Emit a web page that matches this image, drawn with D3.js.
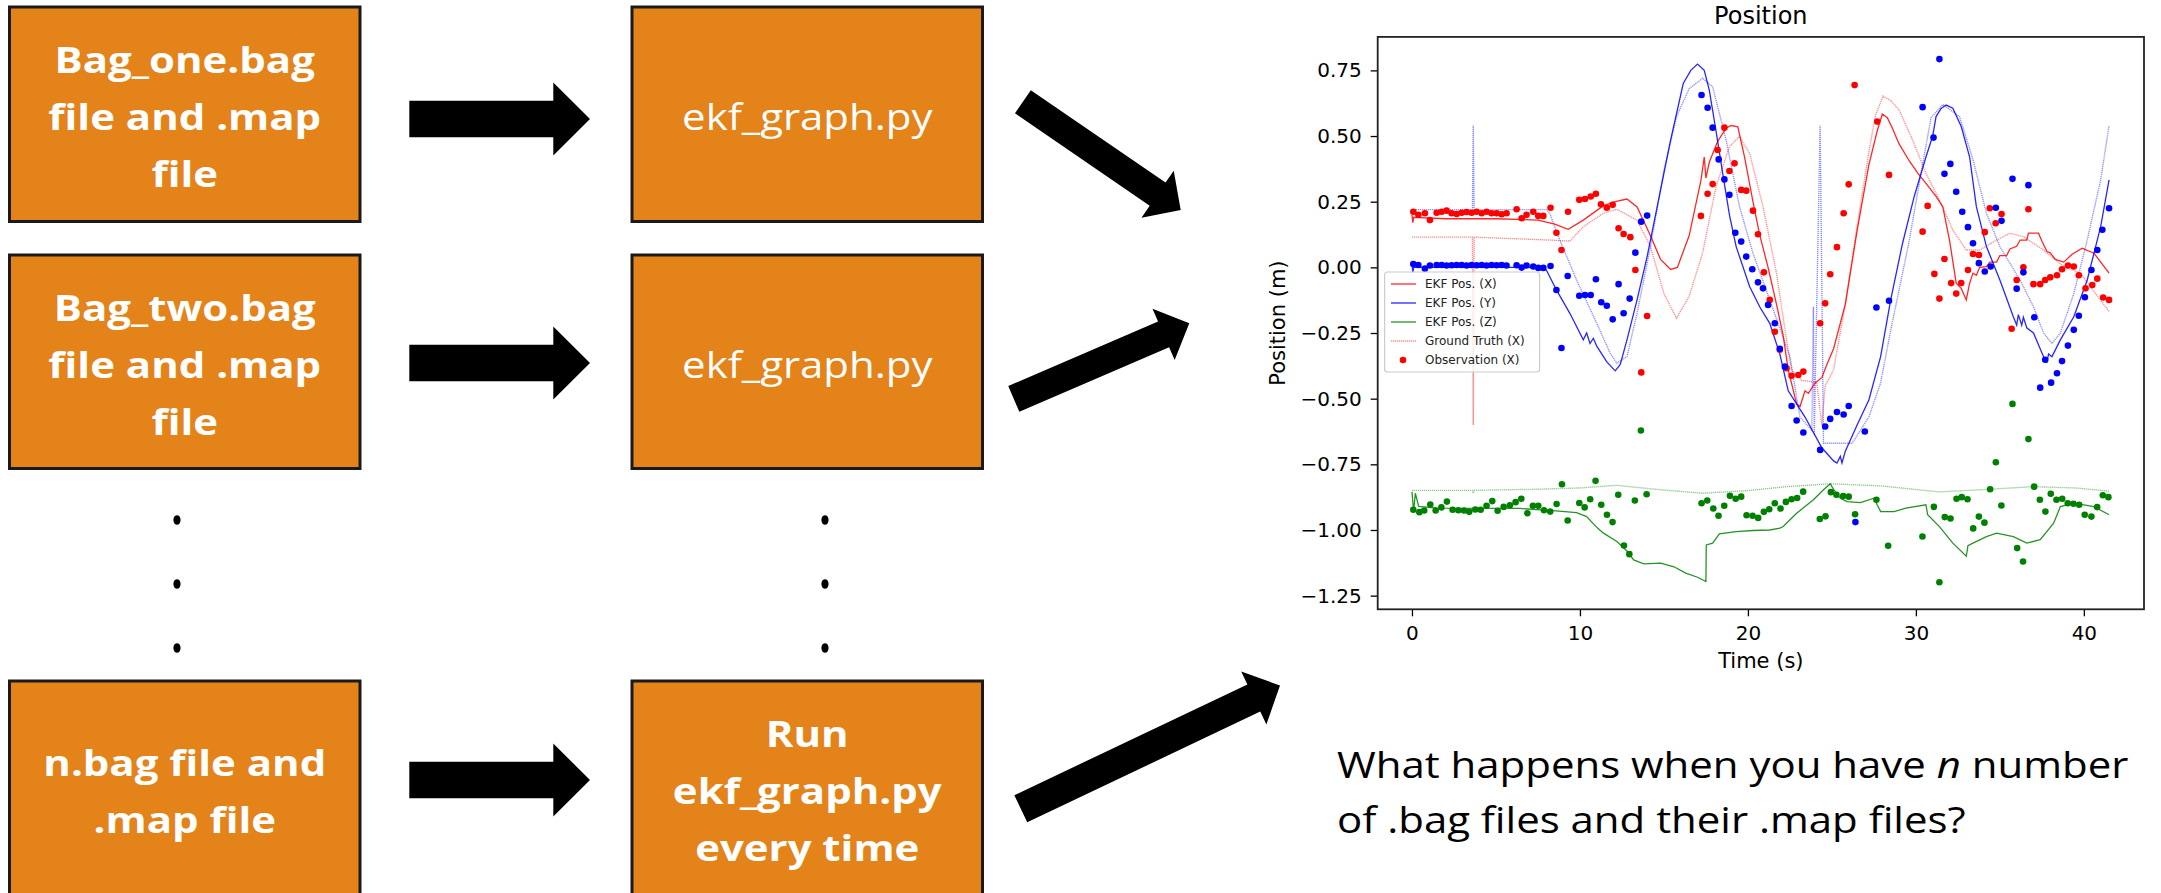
<!DOCTYPE html>
<html>
<head>
<meta charset="utf-8">
<script src="https://cdn.jsdelivr.net/npm/d3@7"></script>
<style>
  html, body { margin: 0; padding: 0; background: #fff; }
  svg { display: block; }
</style>
</head>
<body>
<div id="chart"></div>
<script>
// ---------- diagram text ----------
const inputLabels = [
  ["Bag_one.bag", "file and .map", "file"],
  ["Bag_two.bag", "file and .map", "file"],
  ["n.bag file and", ".map file"],
];
const scriptLabels = [
  ["ekf_graph.py"],
  ["ekf_graph.py"],
  ["Run", "ekf_graph.py", "every time"],
];
const questionLines = [
  ["What happens when you have ", "n", " number"],
  ["of .bag files and their .map files?"],
];

// ---------- plot text ----------
const plotTitle = "Position";
const xLabel = "Time (s)";
const yLabel = "Position (m)";
const xTicks = [0, 10, 20, 30, 40];
const yTicks = [0.75, 0.5, 0.25, 0, -0.25, -0.5, -0.75, -1.0, -1.25];
const legendLabels = ["EKF Pos. (X)", "EKF Pos. (Y)", "EKF Pos. (Z)", "Ground Truth (X)", "Observation (X)"];

// ---------- plot data: [time (s), position (m)] ----------
const ekfX = [
  [0, 0.2], [0.05, 0.17], [0.1, 0.19], [2, 0.185], [5, 0.185], [7.5, 0.18], [8.5, 0.165], [9.3, 0.145],
  [10.2, 0.18], [11.4, 0.235], [12.1, 0.25], [12.8, 0.26], [13.4, 0.23], [14.2, 0.12], [14.8, 0.03],
  [15.4, -0.008], [15.8, 0.0], [16.5, 0.12], [17.2, 0.33], [17.4, 0.42], [17.5, 0.34], [17.7, 0.4],
  [18.2, 0.48], [18.7, 0.53], [19.0, 0.54], [19.4, 0.535], [19.8, 0.42], [20.3, 0.25], [20.7, 0.124],
  [21.2, 0.0], [21.7, -0.14], [22.1, -0.26], [22.4, -0.39], [22.9, -0.52], [23.1, -0.53], [23.4, -0.47],
  [23.6, -0.48], [24.0, -0.44], [24.4, -0.42], [24.7, -0.37], [25.1, -0.31], [25.8, -0.14], [26.5, 0.14],
  [27.2, 0.39], [27.7, 0.52], [28.0, 0.584], [28.3, 0.57], [28.6, 0.53], [29.0, 0.47], [29.6, 0.406],
  [30.1, 0.36], [30.6, 0.32], [31.2, 0.27], [31.6, 0.231], [32.0, 0.104], [32.4, -0.06], [32.7, -0.08],
  [33.0, -0.124], [33.2, -0.06], [33.4, -0.022], [33.6, -0.03], [33.8, 0.0], [34.2, 0.003], [34.4, 0.02],
  [34.8, 0.02], [35.0, 0.045], [35.4, 0.045], [35.6, 0.07], [36.0, 0.08], [36.2, 0.104], [36.6, 0.104],
  [36.7, 0.13], [37.3, 0.13], [37.5, 0.1], [37.8, 0.06], [38.0, 0.055], [38.3, 0.03], [38.8, 0.02],
  [39.3, 0.05], [39.9, 0.073], [40.6, 0.054], [41.5, -0.022],
];
const ekfY = [
  [0, 0.02], [0.05, -0.02], [0.1, 0.0], [4, 0.0], [7.5, 0.0], [8.0, -0.01], [8.6, -0.086], [9.4, -0.175],
  [10.2, -0.276], [10.4, -0.25], [10.6, -0.29], [10.8, -0.27], [11.0, -0.3], [11.6, -0.36], [12.1, -0.394],
  [12.4, -0.37], [12.8, -0.276], [13.4, -0.124], [14.0, 0.041], [14.6, 0.231], [15.4, 0.485], [16.15, 0.7],
  [16.6, 0.75], [17.0, 0.774], [17.4, 0.75], [17.7, 0.675], [18.1, 0.52], [18.5, 0.358], [18.9, 0.2],
  [19.3, 0.079], [20.1, -0.073], [20.7, -0.15], [21.3, -0.213], [21.9, -0.33], [22.4, -0.47], [23.4, -0.57],
  [24.4, -0.687], [25.1, -0.737], [25.3, -0.745], [25.5, -0.72], [25.6, -0.745], [25.8, -0.7], [26.5, -0.6],
  [27.2, -0.505], [27.9, -0.34], [28.5, -0.124], [29.2, 0.09], [29.9, 0.27], [30.6, 0.42], [31.0, 0.5],
  [31.2, 0.574], [31.5, 0.605], [31.8, 0.618], [32.2, 0.606], [32.7, 0.536], [33.2, 0.42], [33.6, 0.231],
  [34.2, 0.079], [35.0, -0.048], [35.8, -0.188], [36.0, -0.22], [36.1, -0.18], [36.3, -0.22], [36.4, -0.19],
  [36.6, -0.23], [37.0, -0.25], [37.6, -0.34], [37.8, -0.36], [37.9, -0.33], [38.1, -0.34], [38.6, -0.276],
  [39.4, -0.188], [40.2, -0.048], [41.0, 0.155], [41.5, 0.333],
];
const ekfZ = [
  [0, -0.855], [0.1, -0.93], [0.2, -0.86], [0.4, -0.91], [1.5, -0.917], [6.4, -0.918], [8.4, -0.926],
  [9.8, -0.934], [10.4, -0.949], [11.0, -0.99], [11.4, -1.012], [12.2, -1.044], [12.8, -1.08], [13.2, -1.114],
  [13.8, -1.129], [14.8, -1.126], [15.6, -1.14], [16.3, -1.164], [17.0, -1.18], [17.5, -1.196], [17.52, -1.057],
  [17.9, -1.05], [18.3, -1.015], [19.3, -1.006], [20.3, -1.002], [21.3, -1.0], [21.9, -0.993], [22.1, -0.987],
  [22.9, -0.936], [23.9, -0.885], [24.5, -0.847], [24.9, -0.824], [25.1, -0.845], [25.5, -0.879], [25.9, -0.892],
  [26.7, -0.896], [27.5, -0.879], [27.9, -0.93], [28.7, -0.93], [29.4, -0.917], [30.6, -0.904], [30.7, -0.942],
  [31.4, -0.987], [32.2, -1.05], [33.0, -1.1], [33.1, -1.06], [33.4, -1.05], [34.2, -1.025], [34.8, -1.012],
  [35.8, -1.025], [36.6, -1.05], [37.4, -1.037], [38.2, -0.974], [38.6, -0.911], [39.4, -0.898], [40.6, -0.911],
  [41.5, -0.942],
];
const truthX = [
  [0, 0.115], [3.6, 0.115], [3.65, -0.6], [3.7, 0.115], [8.2, 0.104], [9.4, 0.1], [10.2, 0.155], [11.4, 0.206],
  [12.2, 0.221], [13.4, 0.18], [14.2, 0.079], [15.0, -0.1], [15.75, -0.194], [16.5, -0.11], [17.3, 0.054],
  [18.1, 0.307], [18.9, 0.46], [19.5, 0.498], [20.1, 0.434], [20.9, 0.231], [21.7, -0.022], [22.3, -0.276],
  [22.6, -0.39], [23.2, -0.43], [23.8, -0.435], [24.1, -0.44], [24.4, -0.6], [24.6, -0.45], [25.1, -0.39],
  [25.8, -0.14], [26.5, 0.157], [27.2, 0.44], [27.6, 0.58], [28.05, 0.652], [28.5, 0.635], [29.0, 0.6],
  [29.8, 0.485], [30.6, 0.358], [31.4, 0.257], [32.2, 0.142], [33.0, 0.066], [33.8, 0.066], [34.8, 0.104],
  [35.6, 0.13], [36.4, 0.117], [37.6, 0.066], [38.8, 0.003], [39.8, -0.022], [40.7, -0.1], [41.5, -0.168],
];
const truthY = [
  [0, 0.22], [3.6, 0.22], [3.65, 0.54], [3.7, 0.22], [8.0, 0.22], [8.2, 0.206], [8.8, 0.104], [9.8, -0.048],
  [11.0, -0.213], [11.8, -0.327], [12.2, -0.365], [12.8, -0.34], [13.4, -0.175], [14.2, 0.079], [15.0, 0.37],
  [15.75, 0.574], [16.5, 0.68], [17.3, 0.72], [17.9, 0.688], [18.7, 0.485], [19.5, 0.231], [20.3, 0.054],
  [21.3, -0.124], [22.5, -0.34], [23.1, -0.57], [23.8, -0.62], [23.9, -0.15], [23.95, -0.64], [24.3, 0.54],
  [24.5, -0.67], [24.8, -0.67], [26.2, -0.67], [27.2, -0.57], [27.9, -0.44], [28.5, -0.24], [29.6, 0.1],
  [30.3, 0.356], [30.9, 0.57], [31.6, 0.62], [32.6, 0.574], [33.4, 0.41], [34.2, 0.206], [35.0, 0.079],
  [36.2, -0.048], [37.0, -0.15], [37.6, -0.25], [38.1, -0.29], [38.6, -0.25], [39.4, -0.1], [40.2, 0.104],
  [41.0, 0.333], [41.5, 0.54],
];
const truthZ = [
  [0, -0.849], [3.6, -0.849], [3.65, -0.86], [3.7, -0.849], [7.4, -0.845], [10, -0.84], [12.2, -0.83],
  [14.5, -0.845], [17.3, -0.86], [20, -0.85], [22.3, -0.835], [24.9, -0.824], [27.9, -0.832], [31.4, -0.855],
  [33.8, -0.847], [37.0, -0.835], [39.5, -0.84], [41.5, -0.852],
];
const obsX = [
  [0.08, 0.212], [0.38, 0.2], [0.77, 0.206], [1.07, 0.18], [1.47, 0.208], [1.77, 0.212], [2.06, 0.216],
  [2.36, 0.206], [2.66, 0.203], [2.96, 0.208], [3.25, 0.211], [3.55, 0.208], [3.85, 0.212], [4.15, 0.206],
  [4.44, 0.212], [4.74, 0.206], [5.04, 0.206], [5.34, 0.202], [5.63, 0.206], [6.23, 0.221], [6.53, 0.187],
  [6.82, 0.2], [7.22, 0.212], [7.52, 0.196], [7.82, 0.196],
  [8.25, 0.227], [8.6, 0.132], [8.9, 0.066], [9.29, 0.212], [9.96, 0.257], [10.3, 0.26], [10.64, 0.27],
  [10.95, 0.28], [11.25, 0.24], [11.6, 0.227], [11.95, 0.238], [12.3, 0.149], [12.6, 0.127], [13.0, 0.115],
  [13.3, -0.01], [13.65, -0.4], [14.0, -0.185],
  [17.2, 0.196], [17.6, 0.28], [17.9, 0.317], [18.2, 0.447], [18.6, 0.532], [18.9, 0.367], [19.2, 0.396],
  [19.6, 0.295], [19.9, 0.292], [20.3, 0.216], [20.6, 0.126], [20.95, -0.019], [21.3, -0.124], [21.6, -0.245],
  [21.9, -0.314], [22.3, -0.384], [22.6, -0.413], [23.0, -0.41], [23.3, -0.397],
  [24.3, -0.213], [24.6, -0.137], [24.9, -0.026], [25.3, 0.077], [25.7, 0.206], [26.0, 0.316], [26.35, 0.694],
  [27.7, 0.555], [28.4, 0.352],
  [30.4, 0.136], [30.7, 0.234], [31.1, -0.025], [31.4, -0.119], [31.7, 0.032], [32.1, -0.06], [32.4, -0.1],
  [32.7, -0.06], [33.1, -0.01], [33.4, 0.051], [33.75, 0.047], [34.1, 0.134], [34.4, 0.225], [34.75, 0.168],
  [35.1, 0.203], [35.7, -0.234], [36.0, -0.048], [36.4, 0.0], [36.7, 0.221], [37.0, -0.064], [37.4, -0.064],
  [37.7, -0.048], [38.0, -0.038], [38.4, -0.03], [38.7, -0.007], [39.05, 0.007], [39.4, 0.003], [39.7, -0.03],
  [40.1, -0.08], [40.5, -0.067], [40.8, -0.043], [41.15, -0.115], [41.5, -0.124],
];
const obsY = [
  [0.08, 0.013], [0.38, 0.009], [0.77, -0.005], [1.07, 0.007], [1.47, 0.009], [1.77, 0.009], [2.06, 0.007],
  [2.36, 0.008], [2.66, 0.009], [2.96, 0.009], [3.25, 0.007], [3.55, 0.009], [3.85, 0.008], [4.15, 0.009],
  [4.44, 0.007], [4.74, 0.009], [5.04, 0.008], [5.34, 0.009], [5.63, 0.007], [6.23, 0.008], [6.53, -0.001],
  [6.82, 0.007], [7.22, 0.003], [7.52, -0.002], [7.82, -0.002], [8.25, 0.005],
  [8.6, -0.086], [8.9, -0.307], [9.27, -0.033], [9.96, -0.108], [10.3, -0.105], [10.64, -0.105], [10.95, -0.045],
  [11.27, -0.133], [11.6, -0.146], [11.95, -0.198], [12.3, -0.064], [12.6, -0.175], [12.96, -0.119],
  [13.3, 0.056], [13.65, 0.174], [14.0, 0.197],
  [17.24, 0.656], [17.6, 0.608], [17.9, 0.532], [18.26, 0.411], [18.6, 0.335], [18.9, 0.276], [19.25, 0.132],
  [19.6, 0.098], [19.9, 0.041], [20.26, -0.007], [20.6, -0.057], [20.9, -0.08], [21.2, -0.143], [21.6, -0.213],
  [21.9, -0.31], [22.2, -0.378], [22.6, -0.528], [22.9, -0.583], [23.3, -0.629], [24.3, -0.695], [24.6, -0.606],
  [24.9, -0.577], [25.3, -0.551], [25.7, -0.56], [26.0, -0.528], [26.4, -0.97], [26.96, -0.625],
  [27.65, -0.153], [28.4, -0.127],
  [30.4, 0.61], [31.05, 0.494], [31.4, 0.793], [31.7, 0.356], [32.05, 0.394], [32.4, 0.288], [32.76, 0.212],
  [33.1, 0.153], [33.4, 0.092], [33.75, 0.016], [34.1, -0.016], [34.45, 0.003], [34.76, 0.227], [35.1, 0.177],
  [35.75, 0.337], [36.0, -0.081], [36.4, -0.019], [36.7, 0.313], [37.05, -0.19], [37.4, -0.458], [37.7, -0.352],
  [38.05, -0.439], [38.4, -0.403], [38.7, -0.357], [39.05, -0.298], [39.4, -0.238], [39.7, -0.184],
  [40.06, -0.114], [40.45, -0.01], [40.8, 0.066], [41.1, 0.143], [41.5, 0.225],
];
const obsZ = [
  [0.08, -0.923], [0.44, -0.932], [0.73, -0.926], [1.09, -0.903], [1.41, -0.926], [1.75, -0.914], [2.08, -0.892],
  [2.42, -0.923], [2.76, -0.925], [3.1, -0.926], [3.41, -0.931], [3.77, -0.922], [4.09, -0.923], [4.44, -0.908],
  [4.78, -0.89], [5.1, -0.927], [5.46, -0.912], [5.83, -0.906], [6.17, -0.894], [6.51, -0.881], [6.87, -0.936],
  [7.2, -0.908], [7.52, -0.908], [7.86, -0.925], [8.23, -0.93], [8.61, -0.901], [8.93, -0.826], [9.27, -0.964],
  [9.96, -0.897], [10.28, -0.914], [10.61, -0.883], [10.93, -0.813], [11.27, -0.904], [11.61, -0.942],
  [11.94, -0.97], [12.28, -0.866], [12.62, -1.059], [12.94, -1.092], [13.27, -0.888], [13.63, -0.621],
  [13.97, -0.864],
  [17.24, -0.898], [17.58, -0.888], [17.94, -0.918], [18.25, -0.946], [18.59, -0.908], [18.93, -0.87],
  [19.27, -0.881], [19.6, -0.873], [19.92, -0.944], [20.28, -0.946], [20.61, -0.954], [20.95, -0.931],
  [21.27, -0.921], [21.6, -0.898], [21.94, -0.918], [22.26, -0.893], [22.6, -0.883], [22.93, -0.878],
  [23.29, -0.854], [24.28, -0.958], [24.62, -0.948], [24.94, -0.856], [25.27, -0.866], [25.67, -0.871],
  [26.0, -0.873], [26.38, -0.94], [27.65, -0.885], [28.35, -1.06], [30.39, -1.025], [31.07, -0.912],
  [31.4, -1.199], [31.72, -0.951], [32.06, -0.956], [32.42, -0.881], [32.73, -0.875], [33.07, -0.883],
  [33.41, -0.994], [33.75, -0.949], [34.08, -0.972], [34.42, -0.845], [34.76, -0.742], [35.09, -0.907],
  [35.75, -0.52], [36.03, -1.069], [36.38, -1.12], [36.7, -0.654], [37.04, -0.835], [37.38, -0.885],
  [37.71, -0.93], [38.03, -0.862], [38.37, -0.885], [38.71, -0.881], [39.04, -0.898], [39.38, -0.9],
  [39.72, -0.904], [40.05, -0.942], [40.45, -0.949], [40.79, -0.913], [41.13, -0.868], [41.46, -0.875],
];

// ---------- page ----------
const W = 2161, H = 893;
const RED = "#ff0000", BLUE = "#0000ff", GREEN = "#008000";
const svg = d3.select("#chart").append("svg").attr("width", W).attr("height", H);

// ---------- flow diagram ----------
const boxFill = "#e3831a";
const colLeft = [9.5, 632];
const boxW = 350.5;
const rowTop = [7, 255, 681];
const rowBottom = [221.5, 468.5, 912];
const lineGap = 57;
const stretch = 1.165; // source text is a horizontally stretched Calibri

const diagram = svg.append("g").attr("class", "diagram");

[inputLabels, scriptLabels].forEach((col, c) => {
  col.forEach((lines, r) => {
    const bx = colLeft[c], by = rowTop[r];
    diagram.append("rect")
      .attr("x", bx).attr("y", by)
      .attr("width", boxW).attr("height", rowBottom[r] - by)
      .attr("fill", boxFill)
      .attr("stroke", "#1a1a1a")
      .attr("stroke-width", 3);

    const bold = !(c === 1 && r < 2);
    lines.forEach((txt, i) => {
      const base = by + 123 + (i - (lines.length - 1) / 2) * lineGap;
      diagram.append("text")
        .attr("transform", `translate(${bx + boxW / 2},${base}) scale(${stretch},1)`)
        .attr("text-anchor", "middle")
        .attr("fill", "#fff")
        .style("font-family", "'Open Sans', sans-serif")
        .style("font-size", "36px")
        .style("font-weight", bold ? 700 : 400)
        .text(txt);
    });
  });
});

// vertical ellipsis between the second and last rows
[0, 1, 2].forEach((k) => {
  [177, 825].forEach((cx) => {
    diagram.append("ellipse")
      .attr("cx", cx).attr("cy", 520 + k * 64)
      .attr("rx", 3.6).attr("ry", 4.8)
      .attr("fill", "#000");
  });
});

// block arrows
function arrowPoints(from, to, shaft, head, headLen) {
  const dx = to[0] - from[0], dy = to[1] - from[1];
  const len = Math.hypot(dx, dy);
  const ux = dx / len, uy = dy / len;
  const nx = -uy, ny = ux;
  const bx = to[0] - ux * headLen, by = to[1] - uy * headLen;
  return [
    [from[0] + nx * shaft / 2, from[1] + ny * shaft / 2],
    [bx + nx * shaft / 2, by + ny * shaft / 2],
    [bx + nx * head / 2, by + ny * head / 2],
    to,
    [bx - nx * head / 2, by - ny * head / 2],
    [bx - nx * shaft / 2, by - ny * shaft / 2],
    [from[0] - nx * shaft / 2, from[1] - ny * shaft / 2],
  ];
}
const arrows = [
  { from: [409.3, 119], to: [590, 119], shaft: 36.6, head: 73, headLen: 36.7 },
  { from: [409.3, 363], to: [590, 363], shaft: 36.6, head: 73, headLen: 36.7 },
  { from: [409.3, 780], to: [590, 780], shaft: 36.6, head: 73, headLen: 36.7 },
  { from: [1022.9, 101.7], to: [1180.7, 210], shaft: 28, head: 57, headLen: 28 },
  { from: [1013.8, 398.9], to: [1189.3, 323.3], shaft: 28, head: 56, headLen: 28 },
  { from: [1020.8, 808.8], to: [1280, 685.5], shaft: 30, head: 58.6, headLen: 29 },
];
diagram.selectAll("polygon.arrow")
  .data(arrows)
  .join("polygon")
  .attr("class", "arrow")
  .attr("points", (d) => arrowPoints(d.from, d.to, d.shaft, d.head, d.headLen).map((p) => p.join(",")).join(" "))
  .attr("fill", "#000");

// question text
questionLines.forEach((parts, i) => {
  const t = diagram.append("text")
    .attr("transform", `translate(1337,${778 + i * 55}) scale(${stretch},1)`)
    .attr("fill", "#000")
    .style("font-family", "'Open Sans', sans-serif")
    .style("font-size", "36px");
  parts.forEach((p) => {
    t.append("tspan")
      .style("font-style", p === "n" ? "italic" : "normal")
      .text(p);
  });
});

// ---------- plot ----------
const plot = { left: 1377.7, right: 2144, top: 36.9, bottom: 609.3 };
const x = d3.scaleLinear().domain([-2.04, 43.58]).range([plot.left, plot.right]);
const y = d3.scaleLinear().domain([-1.302, 0.8775]).range([plot.bottom, plot.top]);

const chart = svg.append("g").attr("class", "plot");
chart.append("clipPath").attr("id", "clip")
  .append("rect")
  .attr("x", plot.left).attr("y", plot.top)
  .attr("width", plot.right - plot.left).attr("height", plot.bottom - plot.top);

const line = d3.line().x((d) => x(d[0])).y((d) => y(d[1]));
const area = chart.append("g").attr("clip-path", "url(#clip)");

const truthSeries = [[truthX, RED], [truthY, BLUE], [truthZ, GREEN]];
area.selectAll("path.truth")
  .data(truthSeries)
  .join("path")
  .attr("class", "truth")
  .attr("d", (d) => line(d[0]))
  .attr("fill", "none")
  .attr("stroke", (d) => d[1])
  .attr("stroke-width", 1.4)
  .attr("stroke-opacity", 0.45)
  .attr("stroke-dasharray", "1.2,0.8");

const ekfSeries = [[ekfX, RED], [ekfY, BLUE], [ekfZ, GREEN]];
area.selectAll("path.ekf")
  .data(ekfSeries)
  .join("path")
  .attr("class", "ekf")
  .attr("d", (d) => line(d[0]))
  .attr("fill", "none")
  .attr("stroke", (d) => d[1])
  .attr("stroke-width", 1.3)
  .attr("stroke-opacity", 0.85);

const obsSeries = [[obsX, RED], [obsY, BLUE], [obsZ, GREEN]];
obsSeries.forEach(([pts, col]) => {
  area.append("g")
    .selectAll("circle")
    .data(pts)
    .join("circle")
    .attr("cx", (d) => x(d[0]))
    .attr("cy", (d) => y(d[1]))
    .attr("r", 3.3)
    .attr("fill", col);
});

// axes
const tickFont = (g) => g.selectAll("text")
  .style("font-family", "'DejaVu Sans', sans-serif")
  .style("font-size", "20px")
  .attr("fill", "#000");

chart.append("g")
  .attr("transform", `translate(0,${plot.bottom})`)
  .call(d3.axisBottom(x).tickValues(xTicks).tickSize(7).tickPadding(10).tickFormat(d3.format("d")))
  .call((g) => g.select(".domain").remove())
  .call((g) => g.selectAll(".tick line").attr("stroke", "#000").attr("stroke-width", 1.3))
  .call(tickFont);

chart.append("g")
  .attr("transform", `translate(${plot.left},0)`)
  .call(d3.axisLeft(y).tickValues(yTicks).tickSize(7).tickPadding(9).tickFormat(d3.format(".2f")))
  .call((g) => g.select(".domain").remove())
  .call((g) => g.selectAll(".tick line").attr("stroke", "#000").attr("stroke-width", 1.3))
  .call(tickFont);

chart.append("rect")
  .attr("x", plot.left).attr("y", plot.top)
  .attr("width", plot.right - plot.left).attr("height", plot.bottom - plot.top)
  .attr("fill", "none")
  .attr("stroke", "#222")
  .attr("stroke-width", 1.8);

const labelFont = (s) => s.style("font-family", "'DejaVu Sans', sans-serif").attr("fill", "#000");

chart.append("text")
  .attr("x", (plot.left + plot.right) / 2).attr("y", 24)
  .attr("text-anchor", "middle")
  .style("font-size", "24px")
  .call(labelFont)
  .text(plotTitle);

chart.append("text")
  .attr("x", (plot.left + plot.right) / 2).attr("y", 668)
  .attr("text-anchor", "middle")
  .style("font-size", "21px")
  .call(labelFont)
  .text(xLabel);

chart.append("text")
  .attr("transform", `translate(1285,${(plot.top + plot.bottom) / 2}) rotate(-90)`)
  .attr("text-anchor", "middle")
  .style("font-size", "21px")
  .call(labelFont)
  .text(yLabel);

// legend
const legendKinds = [
  { color: RED, kind: "line" },
  { color: BLUE, kind: "line" },
  { color: GREEN, kind: "line" },
  { color: RED, kind: "truth" },
  { color: RED, kind: "dot" },
];
const legend = chart.append("g").attr("class", "legend");
legend.append("rect")
  .attr("x", 1384.6).attr("y", 272)
  .attr("width", 155).attr("height", 100)
  .attr("rx", 3)
  .attr("fill", "#fff").attr("fill-opacity", 0.8)
  .attr("stroke", "#cccccc").attr("stroke-width", 1.2);

const entry = legend.selectAll("g.entry")
  .data(legendLabels)
  .join("g")
  .attr("class", "entry")
  .attr("transform", (d, i) => `translate(0,${284 + i * 19})`);

entry.each(function (d, i) {
  const g = d3.select(this);
  const k = legendKinds[i];
  if (k.kind === "dot") {
    g.append("circle").attr("cx", 1403).attr("cy", 0).attr("r", 3.3).attr("fill", k.color);
  } else {
    g.append("line")
      .attr("x1", 1391).attr("x2", 1416)
      .attr("stroke", k.color)
      .attr("stroke-width", k.kind === "truth" ? 1.4 : 1.3)
      .attr("stroke-opacity", k.kind === "truth" ? 0.45 : 0.85)
      .attr("stroke-dasharray", k.kind === "truth" ? "1.2,0.8" : null);
  }
  g.append("text")
    .attr("x", 1425).attr("y", 0).attr("dy", "0.35em")
    .style("font-family", "'DejaVu Sans', sans-serif")
    .style("font-size", "12px")
    .attr("fill", "#222")
    .text(d);
});
</script>
</body>
</html>
